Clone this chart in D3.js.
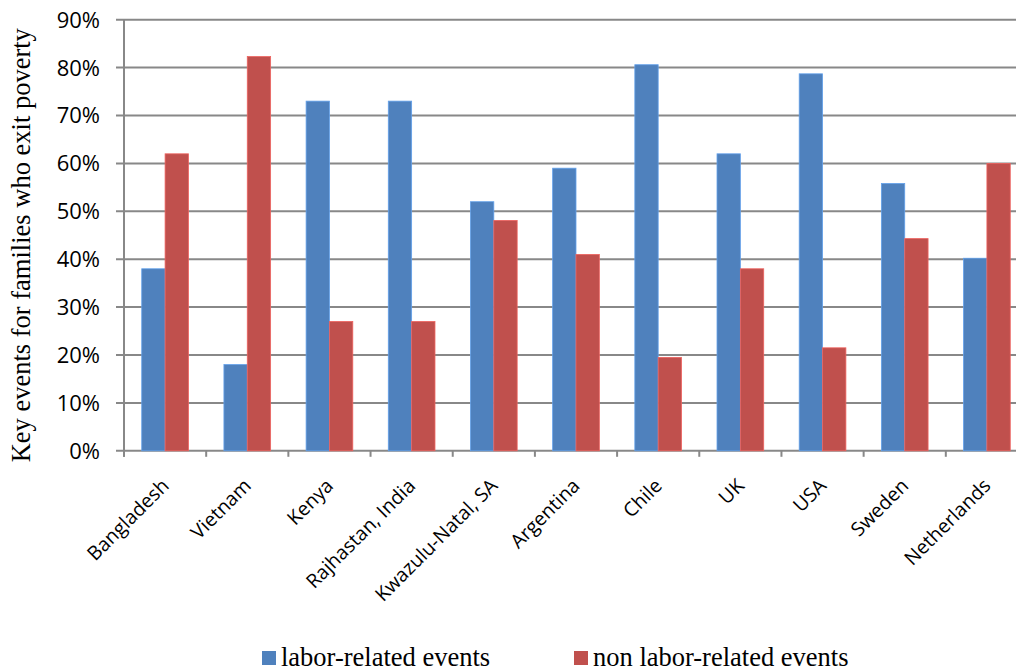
<!DOCTYPE html>
<html>
<head>
<meta charset="utf-8">
<script src="https://cdn.jsdelivr.net/npm/d3@7"></script>
<style>
  body { margin: 0; background: #fff; }
  svg { display: block; }
</style>
</head>
<body>
<svg id="chart" width="1016" height="672"></svg>
<script>
// data
var countries = ['Bangladesh', 'Vietnam', 'Kenya', 'Rajhastan, India', 'Kwazulu-Natal, SA',
    'Argentina', 'Chile', 'UK', 'USA', 'Sweden', 'Netherlands'];
var labor = [38, 18, 73, 73, 52, 59, 80.6, 62, 78.7, 55.8, 40.2];
var nonLabor = [62, 82.3, 27, 27, 48.1, 41, 19.5, 38, 21.5, 44.3, 60];
var seriesNames = ['labor-related events', 'non labor-related events'];
var colors = ['#4F81BD', '#C0504D'];
var yTicks = [0, 10, 20, 30, 40, 50, 60, 70, 80, 90];

var svg = d3.select('#chart');
// note: "top" is taken by window.top, so plotTop
var plotLeft = 124, plotRight = 1028, plotTop = 19.7, plotBottom = 450.8;
var grid = '#888888';

var x = d3.scaleBand().domain(countries).range([plotLeft, plotRight]);
var x1 = d3.scaleBand().domain([0, 1]).range([0, x.step()]).paddingOuter(0.76);
var y = d3.scaleLinear().domain([0, 90]).range([plotBottom, plotTop]);

// gridlines
svg.append('g')
    .selectAll('line')
    .data(yTicks)
    .join('line')
    .attr('x1', plotLeft - 8)
    .attr('x2', plotRight)
    .attr('y1', (d) => y(d))
    .attr('y2', (d) => y(d))
    .attr('stroke', grid)
    .attr('stroke-width', 2);

// bars
var rows = countries.map((c, i) => ({ c: c, v: [labor[i], nonLabor[i]] }));
svg.append('g')
    .selectAll('g')
    .data(rows)
    .join('g')
    .attr('transform', (d) => `translate(${x(d.c)},0)`)
    .selectAll('rect')
    .data((d) => d.v.map((v, k) => ({ v: v, k: k })))
    .join('rect')
    .attr('x', (d) => x1(d.k))
    .attr('width', x1.bandwidth())
    .attr('y', (d) => y(d.v))
    .attr('height', (d) => plotBottom - y(d.v))
    .attr('fill', (d) => colors[d.k])
    .attr('stroke', (d) => d3.color(colors[d.k]).brighter(0.6))
    .attr('stroke-width', 0.8);

// axis lines and ticks
svg.append('line')
    .attr('x1', plotLeft).attr('x2', plotLeft)
    .attr('y1', plotTop).attr('y2', plotBottom + 6)
    .attr('stroke', grid).attr('stroke-width', 2);
svg.append('g')
    .selectAll('line')
    .data(d3.range(countries.length + 1))
    .join('line')
    .attr('x1', (i) => plotLeft + i * x.step())
    .attr('x2', (i) => plotLeft + i * x.step())
    .attr('y1', plotBottom)
    .attr('y2', plotBottom + 6)
    .attr('stroke', grid)
    .attr('stroke-width', 2);

// y tick labels
svg.append('g')
    .selectAll('text')
    .data(yTicks)
    .join('text')
    .attr('x', 100)
    .attr('y', (d) => y(d))
    .attr('dy', '0.36em')
    .attr('text-anchor', 'end')
    .attr('font-family', 'Open Sans')
    .attr('font-size', 22)
    .attr('fill', '#000')
    .text((d) => d + '%');

// x labels
svg.append('g')
    .selectAll('text')
    .data(countries)
    .join('text')
    .attr('transform', (d) => `translate(${x(d) + x.bandwidth() / 2 + 5},487) rotate(-45)`)
    .attr('text-anchor', 'end')
    .attr('font-family', 'Open Sans')
    .attr('font-size', 19.5)
    .attr('fill', '#000')
    .text((d) => d);

// y title
svg.append('text')
    .attr('transform', `translate(30,${(plotTop + plotBottom) / 2 + 10}) rotate(-90)`)
    .attr('text-anchor', 'middle')
    .attr('font-family', 'Liberation Serif')
    .attr('font-size', 26.5)
    .attr('fill', '#000')
    .text('Key events for families who exit poverty');

// legend
var legendX = [262, 574];
var lg = svg.append('g')
    .selectAll('g')
    .data(seriesNames)
    .join('g')
    .attr('transform', (d, i) => `translate(${legendX[i]},651)`);
lg.append('rect')
    .attr('width', 14).attr('height', 14)
    .attr('fill', (d, i) => colors[i]);
lg.append('text')
    .attr('x', 19)
    .attr('y', 15)
    .attr('font-family', 'Liberation Serif')
    .attr('font-size', 26.5)
    .attr('fill', '#000')
    .text((d) => d);
</script>
</body>
</html>
